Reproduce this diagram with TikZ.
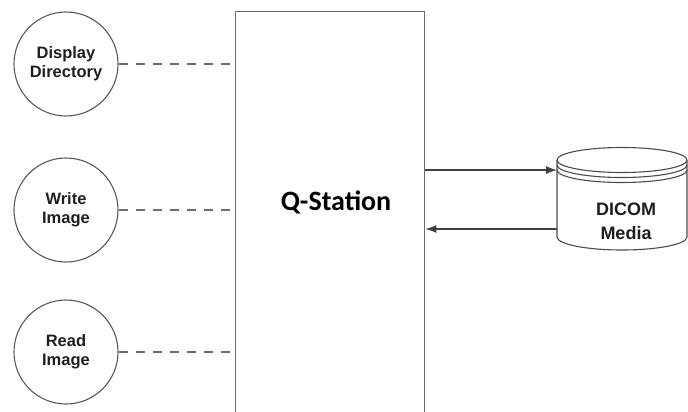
\documentclass[tikz,border=0pt]{standalone}
\usepackage{fontspec}
\setmainfont{Liberation Sans}
\newfontfamily\qfont{Carlito}
\usetikzlibrary{arrows.meta}
\definecolor{linegray}{HTML}{6E6E6E}
\definecolor{txt}{HTML}{1E1E1E}
\tikzset{
  proc/.style={circle, draw=black!65, line width=1.1pt, minimum size=104pt, inner sep=0pt, align=center,
    font=\fontsize{16.5}{19}\selectfont\bfseries, text=txt},
  dashlink/.style={draw=linegray, line width=1.3pt, dash pattern=on 9pt off 8pt},
  flow/.style={draw=black!75, line width=1.1pt, -{Latex[length=11pt,width=8pt]}},
  cyl/.style={draw=black!70, line width=1.1pt, fill=white}
}
\begin{document}
\begin{tikzpicture}[x=1pt,y=-1pt]
\useasboundingbox (0,0) rectangle (688,412);
% main box
\node (qs) [draw=linegray, line width=1.4pt, minimum width=189pt, minimum height=420pt, inner sep=0pt, anchor=north west] at (235,11) {};
\node (qlabel) [font=\qfont\fontsize{28}{30}\selectfont\bfseries, text=black] at (336,202) {Q-Station};
% circles
\node (dd) [proc] at (66,64) {Display\\Directory};
\node (wi) [proc] at (66,210) {Write\\Image};
\node (ri) [proc] at (66,352) {Read\\Image};
\draw[dashlink] (dd.east) -- (dd.east -| qs.west);
\draw[dashlink] (wi.east) -- (wi.east -| qs.west);
\draw[dashlink] (ri.east) -- (ri.east -| qs.west);
% cylinder
\draw[cyl] (557,160) -- (557,237) arc[start angle=180, end angle=0, x radius=65, y radius=13] -- (687,160);
\draw[cyl] (622,160) ellipse[x radius=65, y radius=12.5];
\draw[draw=black!70, line width=1.1pt] (557,165) arc[start angle=180, end angle=0, x radius=65, y radius=12.5];
\draw[draw=black!70, line width=1.1pt] (557,170) arc[start angle=180, end angle=0, x radius=65, y radius=12.5];
\node (dm) [align=center, font=\fontsize{18}{24}\selectfont\bfseries, text=txt] at (626,221) {DICOM\\Media};
\coordinate (a1) at (557,170);
\coordinate (a2) at (557,229);
\draw[flow] (a1 -| qs.east) -- (a1);
\draw[flow] (a2) -- (a2 -| qs.east);
\end{tikzpicture}
\end{document}
